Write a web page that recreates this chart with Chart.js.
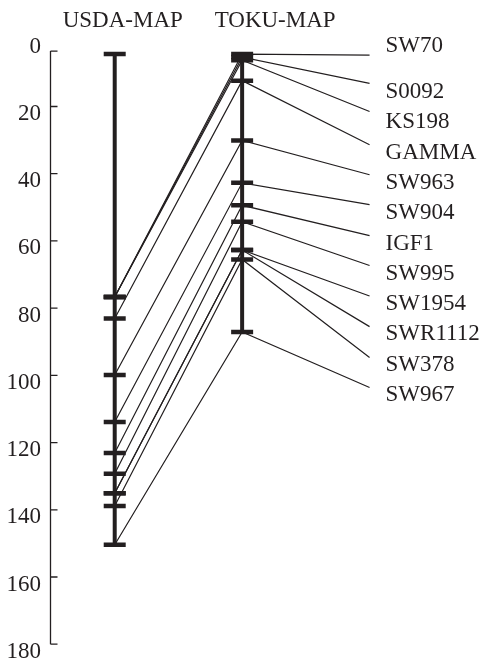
<!DOCTYPE html>
<html>
<head>
<meta charset="utf-8">
<script src="https://cdn.jsdelivr.net/npm/chart.js@4/dist/chart.umd.min.js"></script>
<style>
  html, body { margin: 0; padding: 0; background: #fff; }
  #wrap { width: 487px; height: 668px; position: relative; }
</style>
</head>
<body>
<div id="wrap"><canvas id="mapChart"></canvas></div>
<script>
// marker names and positions (cM)
const markers = ['SW70', 'S0092', 'KS198', 'GAMMA', 'SW963', 'SW904', 'IGF1', 'SW995', 'SW1954', 'SWR1112', 'SW378', 'SW967'];
const tokuPos = [4.4, 5.3, 6.2, 12.3, 30.1, 42.7, 49.4, 54.3, 62.7, 62.7, 65.5, 87.1];
const usdaPos = [76.7, 76.7, 76.7, 83.1, 99.9, 113.9, 123.1, 129.3, 135.1, 135.1, 138.9, 150.4];
const usdaEnds = [4.4, 150.4];
// where the label leader lines end, and where the label text sits
const labelLinePos = [4.7, 13.1, 21.5, 31.4, 40.3, 49.2, 58.4, 67.3, 76.4, 85.5, 94.7, 103.6];
const labelTextPos = [2.0, 15.6, 24.5, 33.8, 42.7, 51.6, 60.8, 69.8, 78.9, 87.8, 97.0, 105.9];
const mapNames = ['USDA-MAP', 'TOKU-MAP'];
const yTicks = [0, 20, 40, 60, 80, 100, 120, 140, 160, 180];
const axisTop = 3.5;

const ink = '#231f20';
const serif = "'Liberation Serif', 'Times New Roman', serif";

const datasets = [];

// connecting lines: USDA -> TOKU -> label
markers.forEach((m, i) => {
    datasets.push({
        label: m,
        data: [
            { x: 1, y: usdaPos[i] },
            { x: 2, y: tokuPos[i] },
            { x: 3, y: labelLinePos[i] },
        ],
        showLine: true,
        borderColor: ink,
        borderWidth: 1.2,
        pointRadius: 0,
        order: 3,
    });
});

// the two map bars
datasets.push({
    label: mapNames[0],
    data: [{ x: 1, y: usdaEnds[0] }, { x: 1, y: usdaEnds[1] }],
    showLine: true,
    borderColor: ink,
    borderWidth: 4,
    pointRadius: 0,
    order: 2,
});
datasets.push({
    label: mapNames[1],
    data: [{ x: 2, y: Math.min(...tokuPos) }, { x: 2, y: Math.max(...tokuPos) }],
    showLine: true,
    borderColor: ink,
    borderWidth: 4,
    pointRadius: 0,
    order: 2,
});

// marker ticks on the bars
const tickStyle = {
    showLine: false,
    pointStyle: 'line',
    pointRadius: 11,
    pointBorderWidth: 4.5,
    pointBorderColor: ink,
    borderColor: ink,
    order: 1,
};
datasets.push({
    label: 'usda ticks',
    data: [usdaEnds[0], ...usdaPos].map(v => ({ x: 1, y: v })),
    ...tickStyle,
});
datasets.push({
    label: 'toku ticks',
    data: tokuPos.map(v => ({ x: 2, y: v })),
    ...tickStyle,
});

const mapDecor = {
    id: 'mapDecor',
    afterDraw(chart) {
        const { ctx, scales: { x, y } } = chart;
        ctx.save();

        // axis line with inward ticks
        const ax = x.left - 0.5;
        ctx.strokeStyle = ink;
        ctx.lineWidth = 1.3;
        ctx.beginPath();
        ctx.moveTo(ax, y.getPixelForValue(axisTop));
        ctx.lineTo(ax, y.getPixelForValue(yTicks[yTicks.length - 1]));
        yTicks.forEach((v, i) => {
            const py = y.getPixelForValue(i === 0 ? axisTop : v);
            ctx.moveTo(ax, py);
            ctx.lineTo(ax + 7, py);
        });
        ctx.stroke();

        ctx.fillStyle = ink;
        ctx.font = '23px ' + serif;

        // map titles
        ctx.textAlign = 'center';
        ctx.textBaseline = 'alphabetic';
        ctx.fillText(mapNames[0], x.getPixelForValue(1) + 8, 27);
        ctx.fillText(mapNames[1], x.getPixelForValue(2) + 33, 27);

        // marker labels
        ctx.textAlign = 'left';
        ctx.textBaseline = 'middle';
        markers.forEach((m, i) => {
            ctx.fillText(m, x.getPixelForValue(3) + 16, y.getPixelForValue(labelTextPos[i]));
        });

        ctx.restore();
    }
};

new Chart(document.getElementById('mapChart').getContext('2d'), {
    type: 'scatter',
    data: { datasets },
    options: {
        responsive: true,
        maintainAspectRatio: false,
        animation: false,
        events: [],
        layout: { padding: { top: 39.3, bottom: 22.3, left: 0, right: 12 } },
        plugins: {
            legend: { display: false },
            tooltip: { enabled: false },
        },
        scales: {
            x: { type: 'linear', min: 0.5, max: 3.8, display: false },
            y: {
                type: 'linear',
                min: 0,
                max: 180,
                reverse: true,
                grid: { display: false, drawTicks: false },
                border: { display: false },
                afterBuildTicks: s => { s.ticks = yTicks.map(v => ({ value: v })); },
                afterFit: s => { s.width = 51; },
                ticks: {
                    padding: 10,
                    labelOffset: 7.5,
                    color: ink,
                    font: { family: serif, size: 23 },
                },
            },
        },
    },
    plugins: [mapDecor],
});
</script>
</body>
</html>
